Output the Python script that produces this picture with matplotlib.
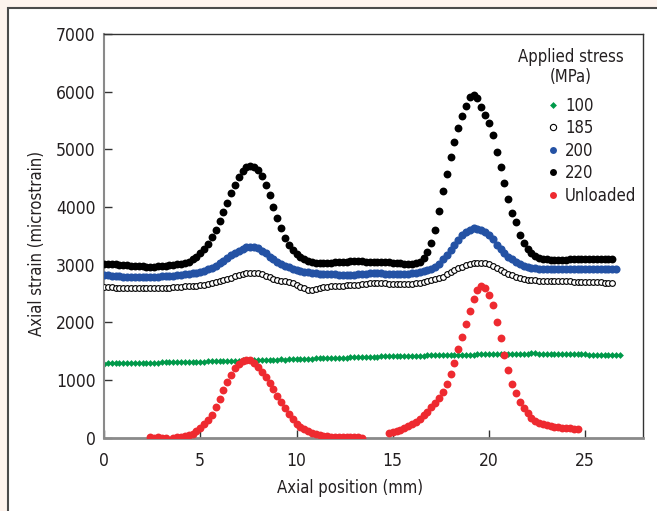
#!/usr/bin/env python3
import numpy as np
import matplotlib
matplotlib.use("Agg")
import matplotlib.pyplot as plt
from matplotlib.patches import Rectangle
from matplotlib.lines import Line2D

plt.rcParams['font.family'] = ['Liberation Sans Narrow', 'DejaVu Sans']
plt.rcParams['font.stretch'] = 'condensed'

# axial positions (mm), 0.2 mm steps
pos = np.round(np.arange(0, 26.9, 0.2), 1)

# axial strain (microstrain) for each applied stress
s100 = [1285, 1288, 1287, 1290, 1289, 1292, 1293, 1291, 1295, 1297,
        1298, 1296, 1300, 1303, 1302, 1305, 1308, 1306, 1310, 1312,
        1310, 1314, 1316, 1315, 1319, 1321, 1320, 1324, 1326, 1325,
        1329, 1331, 1330, 1334, 1336, 1335, 1339, 1341, 1340, 1344,
        1346, 1345, 1349, 1351, 1350, 1354, 1357, 1355, 1360, 1363,
        1362, 1366, 1369, 1368, 1372, 1375, 1374, 1378, 1381, 1380,
        1384, 1387, 1386, 1390, 1393, 1392, 1396, 1399, 1398, 1402,
        1405, 1404, 1408, 1410, 1409, 1413, 1415, 1414, 1418, 1420,
        1419, 1422, 1424, 1423, 1426, 1428, 1427, 1430, 1432, 1431,
        1434, 1436, 1435, 1438, 1440, 1439, 1442, 1444, 1443, 1446,
        1448, 1447, 1450, 1452, 1451, 1454, 1456, 1455, 1458, 1459,
        1458, 1460, 1461, 1459, 1457, 1458, 1455, 1453, 1454, 1451,
        1449, 1450, 1447, 1445, 1446, 1443, 1441, 1442, 1440, 1438,
        1439, 1437, 1436, 1438, 1435]

s185 = [2610, 2608, 2605, 2602, 2600, 2598, 2595, 2593, 2592, 2590,
        2590, 2590, 2590, 2592, 2595, 2598, 2600, 2603, 2607, 2612,
        2617, 2622, 2627, 2632, 2638, 2645, 2655, 2668, 2683, 2700,
        2718, 2737, 2757, 2777, 2797, 2815, 2832, 2848, 2858, 2860,
        2850, 2830, 2805, 2780, 2755, 2735, 2722, 2710, 2695, 2675,
        2650, 2620, 2590, 2565, 2558, 2570, 2590, 2605, 2615, 2622,
        2628, 2633, 2637, 2640, 2643, 2647, 2652, 2660, 2668, 2675,
        2680, 2682, 2680, 2677, 2672, 2668, 2665, 2663, 2664, 2668,
        2673, 2680, 2690, 2702, 2715, 2728, 2745, 2768, 2795, 2830,
        2865, 2900, 2935, 2965, 2990, 3010, 3025, 3033, 3035, 3025,
        3005, 2980, 2950, 2915, 2880, 2845, 2815, 2790, 2770, 2755,
        2742, 2733, 2727, 2722, 2720, 2718, 2716, 2715, 2714, 2712,
        2710, 2709, 2708, 2706, 2705, 2704, 2702, 2700, 2696, 2692,
        2688, 2683, 2678]

s200 = [2820, 2815, 2810, 2805, 2800, 2795, 2790, 2785, 2785, 2785,
        2785, 2788, 2790, 2792, 2795, 2798, 2800, 2805, 2810, 2818,
        2825, 2832, 2840, 2850, 2862, 2877, 2895, 2920, 2950, 2985,
        3025, 3070, 3115, 3160, 3205, 3245, 3280, 3305, 3315, 3310,
        3285, 3245, 3195, 3140, 3090, 3045, 3010, 2980, 2955, 2930,
        2910, 2893, 2880, 2868, 2858, 2850, 2843, 2838, 2835, 2832,
        2830, 2828, 2826, 2825, 2825, 2828, 2832, 2838, 2845, 2848,
        2850, 2850, 2848, 2845, 2840, 2836, 2833, 2832, 2835, 2840,
        2848, 2858, 2870, 2885, 2905, 2930, 2965, 3020, 3090, 3170,
        3260, 3345, 3430, 3510, 3570, 3610, 3630, 3625, 3600, 3560,
        3515, 3450, 3340, 3265, 3200, 3140, 3090, 3050, 3015, 2985,
        2965, 2950, 2940, 2932, 2928, 2925, 2923, 2922, 2922, 2921,
        2920, 2920, 2921, 2922, 2923, 2924, 2924, 2923, 2922, 2921,
        2920, 2920, 2919, 2918]

s220 = [3010, 3012, 3008, 3005, 3000, 2995, 2990, 2985, 2980, 2975,
        2970, 2968, 2965, 2968, 2972, 2978, 2985, 2992, 3000, 3010,
        3020, 3035, 3055, 3090, 3135, 3200, 3275, 3365, 3475, 3605,
        3750, 3910, 4075, 4240, 4390, 4520, 4625, 4690, 4715, 4700,
        4640, 4530, 4385, 4215, 4000, 3810, 3630, 3470, 3345, 3250,
        3180, 3130, 3095, 3070, 3050, 3035, 3025, 3022, 3025, 3030,
        3038, 3045, 3050, 3055, 3060, 3062, 3060, 3058, 3055, 3052,
        3050, 3050, 3048, 3045, 3040, 3035, 3030, 3025, 3020, 3018,
        3020, 3030, 3055, 3110, 3215, 3370, 3600, 3930, 4280, 4580,
        4860, 5130, 5370, 5570, 5760, 5900, 5950, 5890, 5740, 5590,
        5460, 5250, 4960, 4700, 4420, 4140, 3900, 3740, 3520, 3380,
        3280, 3200, 3150, 3120, 3100, 3090, 3085, 3080, 3082, 3085,
        3088, 3090, 3092, 3095, 3095, 3097, 3098, 3096, 3094, 3095,
        3100, 3098, 3090]

# unloaded specimen, two scans
unl_pos1 = np.round(np.arange(2.4, 13.41, 0.2), 1)
unl1 = [5, 3, 4, 2, 3, np.nan,
        2, 8, 18, 33, 50, 72, 110, 168, 235, 305,
        400, 535, 675, 830, 970, 1095, 1205, 1278, 1325, 1346,
        1340, 1300, 1230, 1140, 1050, 950, 840, 728, 618, 515,
        415, 325, 245, 190, 150, 115, 85, 62, 46, 35,
        26, 19, 15, 13, 12, 11, 10, 8, 5, 2]
unl_pos2 = np.round(np.arange(14.8, 24.61, 0.2), 1)
unl2 = [90, 100, 120, 138, 160, 195, 230, 275, 325, 390,
        450, 525, 605, 695, 800, 930, 1100, 1300, 1530, 1750,
        1970, 2200, 2400, 2560, 2630, 2590, 2470, 2300, 2000, 1730,
        1440, 1173, 935, 770, 625, 510, 420, 345, 295, 258,
        235, 212, 200, 192, 182, 175, 168, 162, 155, 148]

legend_labels = ["100", "185", "200", "220", "Unloaded"]

green = '#00994a'
blue = '#2452a4'
red = '#ee2a30'
txt = '#231f20'

fig = plt.figure(figsize=(6.57, 5.11), dpi=100, facecolor='#fdf3ed')
panel = Rectangle((8 / 657, -0.1), 1.2, 1.1 - 8 / 511,
                  transform=fig.transFigure, facecolor='white',
                  edgecolor='#4a4a4a', linewidth=1.5, zorder=-10)
fig.patches.append(panel)
ax = fig.add_axes([104 / 657, 1 - 437.7 / 511, 539 / 657, 403.7 / 511])
ax.set_facecolor('white')

ax.scatter(pos[:len(s100)], s100, marker='D', s=12, color=green, linewidths=0, zorder=2)
ax.scatter(pos[:len(s185)], s185, marker='o', s=17, facecolor='white', edgecolor='black',
           linewidths=0.8, zorder=3)
ax.scatter(pos[:len(s200)], s200, marker='o', s=34, color=blue, linewidths=0, zorder=4)
ax.scatter(pos[:len(s220)], s220, marker='o', s=32, color='black', linewidths=0, zorder=5)
ax.scatter(unl_pos1, unl1, marker='o', s=32, color=red, linewidths=0, zorder=6)
ax.scatter(unl_pos2, unl2, marker='o', s=32, color=red, linewidths=0, zorder=6)

ax.set_xlim(0, 28)
ax.set_ylim(0, 7000)
ax.set_xticks(range(0, 26, 5))
ax.set_yticks(range(0, 7001, 1000))

# spines
for side in ['top', 'right']:
    ax.spines[side].set_color('#333333')
    ax.spines[side].set_linewidth(1)
ax.spines['left'].set_color('#8a8a8a')
ax.spines['left'].set_linewidth(1.5)
ax.spines['bottom'].set_color('#8a8a8a')
ax.spines['bottom'].set_linewidth(2)

ax.tick_params(axis='both', direction='in', length=6, width=1, color='#333333',
               labelsize=12.5, labelcolor=txt)
ax.tick_params(axis='x', pad=10)
ax.tick_params(axis='y', pad=6)

ax.set_xlabel('Axial position (mm)', fontsize=12, color=txt)
ax.set_ylabel('Axial strain (microstrain)', fontsize=12, color=txt)
ax.xaxis.set_label_coords(0.456, -0.102)
ax.yaxis.set_label_coords(-0.107, 0.48)

# legend
ax.text(0.866, 0.965, 'Applied stress\n(MPa)', transform=ax.transAxes, ha='center', va='top',
        fontsize=12, color=txt, linespacing=1.15)
handles = [
    Line2D([], [], ls='', marker='D', ms=3.5, color=green, mew=0),
    Line2D([], [], ls='', marker='o', ms=4.5, mfc='white', mec='black', mew=0.8),
    Line2D([], [], ls='', marker='o', ms=5, color=blue, mew=0),
    Line2D([], [], ls='', marker='o', ms=5, color='black', mew=0),
    Line2D([], [], ls='', marker='o', ms=5, color=red, mew=0),
]
leg = ax.legend(handles, legend_labels, loc='upper left', bbox_to_anchor=(0.821, 0.845),
                frameon=False, fontsize=12, handlelength=0.8, handletextpad=0.3,
                labelspacing=0.27, borderpad=0, borderaxespad=0)
for t in leg.get_texts():
    t.set_color(txt)

fig.savefig('out.png', dpi=100, facecolor=fig.get_facecolor())
